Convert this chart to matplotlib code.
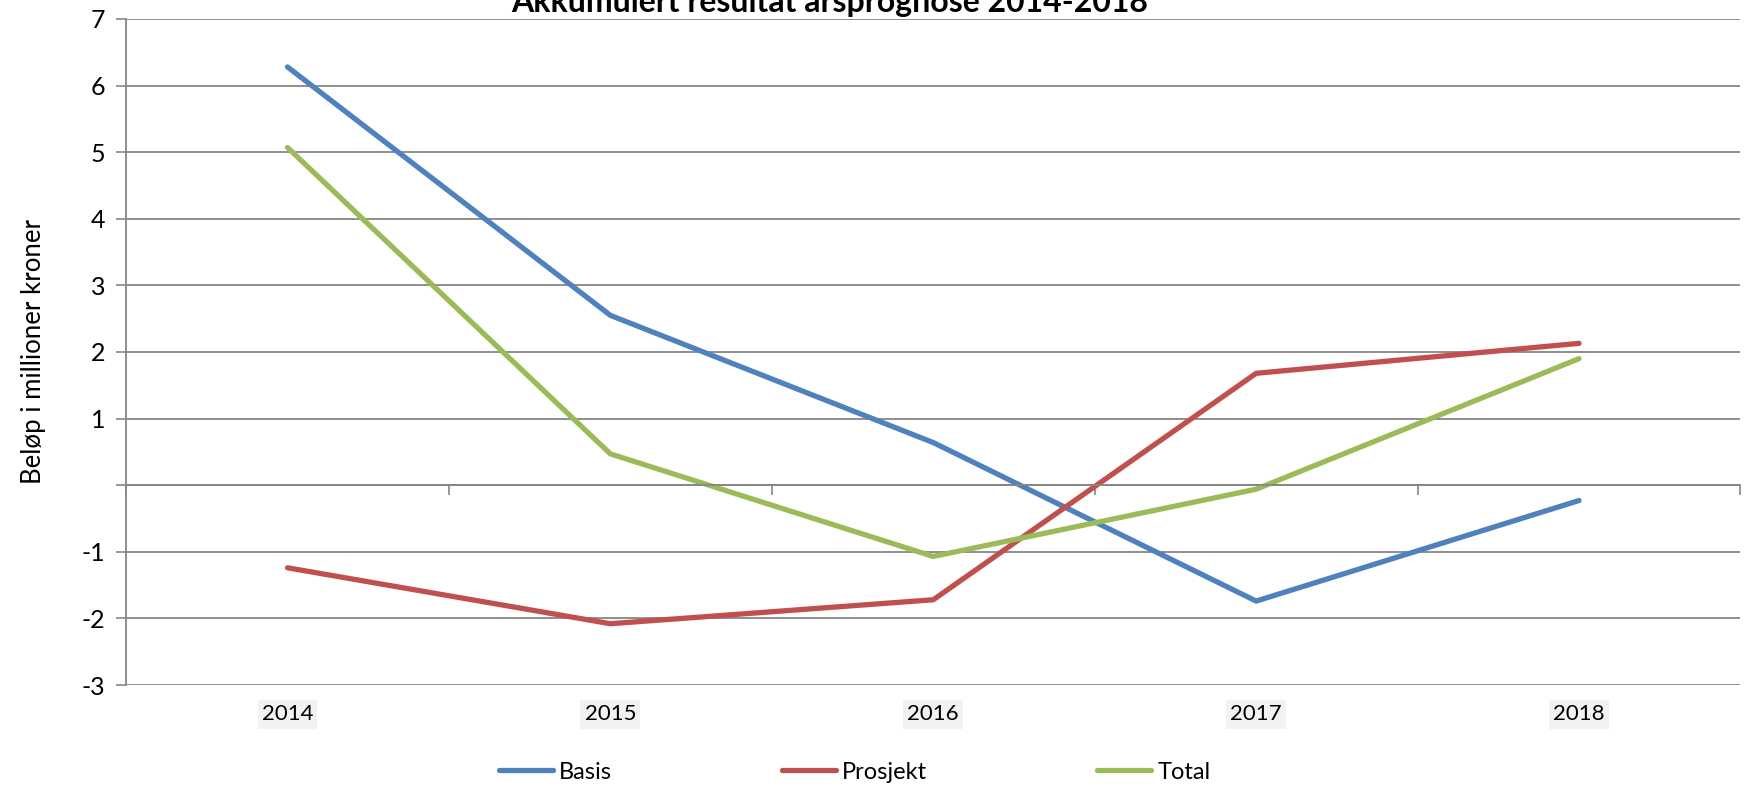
import matplotlib.pyplot as plt
import numpy as np

# data
years = ['2014', '2015', '2016', '2017', '2018']
basis = [6.28, 2.55, 0.64, -1.74, -0.23]
prosjekt = [-1.24, -2.08, -1.72, 1.68, 2.13]
total = [5.07, 0.47, -1.07, -0.06, 1.90]
y_ticks = [-3, -2, -1, 0, 1, 2, 3, 4, 5, 6, 7]

plt.rcParams['font.family'] = ['Lato', 'DejaVu Sans']
grid_col = '#868686'

fig = plt.figure(figsize=(17.51, 7.91), dpi=100)
ax = fig.add_axes([0.072, 0.134, 0.922, 0.842])

x = np.arange(len(years))
ax.plot(x, basis, color='#4F81BD', lw=3.8, label='Basis', solid_capstyle='round')
ax.plot(x, prosjekt, color='#C0504D', lw=3.8, label='Prosjekt', solid_capstyle='round')
ax.plot(x, total, color='#9BBB59', lw=3.8, label='Total', solid_capstyle='round')

ax.set_xlim(-0.5, len(years) - 0.5)
ax.set_ylim(-3, 7)

# y axis
ax.set_yticks(y_ticks)
ax.set_yticklabels(['' if v == 0 else str(v) for v in y_ticks], fontsize=18)
ax.tick_params(axis='y', length=7, width=1.2, color=grid_col, pad=8)
ax.yaxis.grid(True, color=grid_col, lw=1.3)
ax.set_axisbelow(True)

for s in ['top', 'right']:
    ax.spines[s].set_visible(False)
ax.spines['left'].set_color(grid_col)
ax.spines['left'].set_linewidth(1.3)

# category axis crossing at zero, ticks between categories
ax.spines['bottom'].set_position(('data', 0))
ax.spines['bottom'].set_color(grid_col)
ax.spines['bottom'].set_linewidth(1.3)
ax.set_xticks(np.arange(len(years) + 1) - 0.5)
ax.set_xticklabels([])
ax.tick_params(axis='x', direction='out', length=7, width=1.2, color=grid_col)

sec = ax.secondary_xaxis(0)
sec.set_xticks(x)
sec.set_xticklabels(years, fontsize=16)
sec.tick_params(length=0, pad=14)
sec.spines['bottom'].set_visible(False)
for lab in sec.get_xticklabels():
    lab.set_bbox(dict(facecolor='#f2f2f2', edgecolor='none', pad=3))

ax.set_ylabel('Beløp i millioner kroner', fontsize=18.5, labelpad=26)

fig.text(0.474, 0.997, 'Akkumulert resultat årsprognose 2014-2018', fontsize=23,
         fontweight='bold', ha='center', va='center')

fig.legend(loc='center', bbox_to_anchor=(0.488, 0.024), ncol=3, frameon=False,
           fontsize=17, handlelength=2.3, handletextpad=0.25, columnspacing=7.2)

fig.savefig('out.png', dpi=100)
